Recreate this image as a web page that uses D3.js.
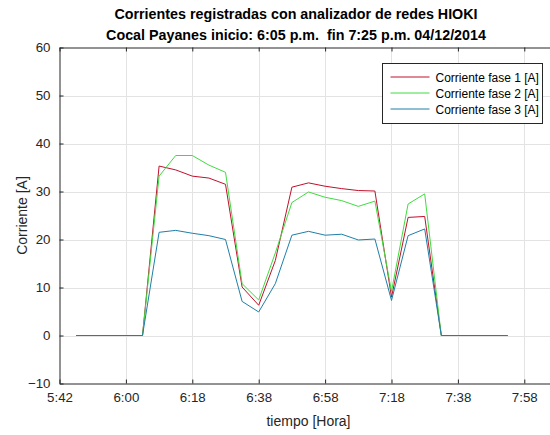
<!DOCTYPE html>
<html>
<head>
<meta charset="utf-8">
<script src="https://cdn.jsdelivr.net/npm/d3@7"></script>
<style>
  html, body { margin: 0; padding: 0; background: #fff; }
  svg { display: block; font-family: "Liberation Sans", Arial, Helvetica, sans-serif; }
  .axis path, .axis line { stroke: #262626; }
  .axis text { fill: #262626; font-size: 13.3px; }
  .title { white-space: pre; }
</style>
</head>
<body>
<svg id="chart" width="550" height="435"></svg>
<script>
// Time in minutes after the first tick (5:42 p.m.)
const times = [5, 25, 30, 35, 40, 45, 50, 55, 60, 65, 70, 75, 80, 85, 90, 95, 100, 105, 110, 115, 135];
const fase1 = [0, 0, 35.3, 34.5, 33.2, 32.8, 31.5, 10.1, 6.3, 15.6, 30.9, 31.8, 31.1, 30.6, 30.2, 30.1, 8.0, 24.6, 24.8, 0, 0];
const fase2 = [0, 0, 33.2, 37.5, 37.5, 35.5, 34.0, 10.8, 7.4, 17.2, 27.7, 29.9, 28.8, 28.1, 26.9, 28.0, 9.2, 27.4, 29.5, 0, 0];
const fase3 = [0, 0, 21.5, 21.9, 21.3, 20.8, 20.0, 7.1, 4.9, 10.8, 20.9, 21.7, 20.9, 21.1, 19.9, 20.1, 7.3, 20.8, 22.2, 0, 0];

const seriesNames = ["Corriente fase 1 [A]", "Corriente fase 2 [A]", "Corriente fase 3 [A]"];
const seriesColors = ["#c0102c", "#3fdc3f", "#1f7fa8"];

const xTickValues = [0, 20, 40, 60, 80, 100, 120, 140];
const xTickLabels = ["5:42", "6:00", "6:18", "6:38", "6:58", "7:18", "7:38", "7:58"];
const yTickValues = [-10, 0, 10, 20, 30, 40, 50, 60];

const titleLines = [
  "Corrientes registradas con analizador de redes HIOKI",
  "Cocal Payanes inicio: 6:05 p.m.  fin 7:25 p.m. 04/12/2014"
];
const xLabel = "tiempo [Hora]";
const yLabel = "Corriente [A]";

const svg = d3.select("#chart");
const plotL = 59.5, plotR = 557.5, plotT = 47.5, plotB = 383.5;

const x = d3.scaleLinear().domain([0, 150]).range([plotL, plotR]);
const y = d3.scaleLinear().domain([-10, 60]).range([plotB, plotT]);

// grid
const grid = svg.append("g").attr("stroke", "#e3e3e3").attr("stroke-width", 1);
grid.selectAll("line.gx").data(xTickValues.slice(1)).join("line")
  .attr("x1", d => Math.round(x(d)) + 0.5).attr("x2", d => Math.round(x(d)) + 0.5)
  .attr("y1", plotT).attr("y2", plotB);
grid.selectAll("line.gy").data(yTickValues.slice(1, -1)).join("line")
  .attr("y1", d => Math.round(y(d)) + 0.5).attr("y2", d => Math.round(y(d)) + 0.5)
  .attr("x1", plotL).attr("x2", plotR);

// series
const series = [fase1, fase2, fase3];
const line = d3.line().x(d => x(d[0])).y(d => y(d[1]));
series.forEach((vals, i) => {
  svg.append("path")
    .datum(times.map((t, j) => [t, vals[j]]))
    .attr("fill", "none")
    .attr("stroke", seriesColors[i])
    .attr("stroke-width", 1)
    .attr("stroke-linejoin", "round")
    .attr("d", line);
});

// axes (ticks point inward)
svg.append("g").attr("class", "axis")
  .attr("transform", `translate(0,${plotB})`)
  .call(d3.axisBottom(x).tickValues(xTickValues).tickSizeInner(-4).tickSizeOuter(0)
    .tickPadding(9).tickFormat((d, i) => xTickLabels[i]));
svg.append("g").attr("class", "axis")
  .attr("transform", `translate(0,${plotT})`)
  .call(d3.axisTop(x).tickValues(xTickValues).tickSizeInner(-4).tickSizeOuter(0)
    .tickFormat(""));
svg.append("g").attr("class", "axis")
  .attr("transform", `translate(${plotL},0)`)
  .call(d3.axisLeft(y).tickValues(yTickValues).tickSizeInner(-4).tickSizeOuter(0)
    .tickPadding(9));

// titles
svg.append("g").selectAll("text").data(titleLines).join("text")
  .attr("class", "title")
  .attr("x", 296).attr("y", (d, i) => 18.5 + i * 21)
  .attr("text-anchor", "middle")
  .attr("font-size", 14.3).attr("font-weight", "bold").attr("fill", "#000")
  .text(d => d);

svg.append("text")
  .attr("x", (plotL + plotR) / 2).attr("y", 426)
  .attr("text-anchor", "middle").attr("font-size", 14).attr("fill", "#262626")
  .text(xLabel);

svg.append("text")
  .attr("transform", `translate(27,${(plotT + plotB) / 2}) rotate(-90)`)
  .attr("text-anchor", "middle").attr("font-size", 14).attr("fill", "#262626")
  .text(yLabel);

// legend
const lg = svg.append("g").attr("transform", "translate(382.5,63.5)");
lg.append("rect").attr("width", 160).attr("height", 60)
  .attr("fill", "#fff").attr("stroke", "#262626").attr("stroke-width", 1);
seriesNames.forEach((name, i) => {
  const yy = 13.5 + i * 16;
  lg.append("line").attr("x1", 8).attr("x2", 47).attr("y1", yy).attr("y2", yy)
    .attr("stroke", seriesColors[i]).attr("stroke-width", 1);
  lg.append("text").attr("x", 53).attr("y", yy + 4.5)
    .attr("font-size", 12).attr("fill", "#000").text(name);
});
</script>
</body>
</html>
